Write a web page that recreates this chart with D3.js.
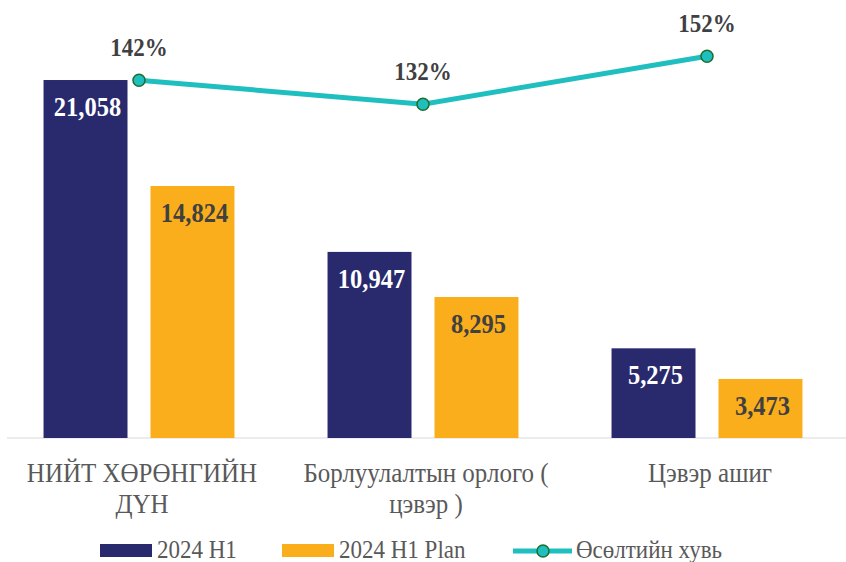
<!DOCTYPE html>
<html>
<head>
<meta charset="utf-8">
<script src="https://cdn.jsdelivr.net/npm/d3@7"></script>
<style>
  body { margin: 0; background: #fff; }
</style>
</head>
<body>
<div id="chart"></div>
<script>
// data
const categories = [["НИЙТ ХӨРӨНГИЙН", "ДҮН"], ["Борлуулалтын орлого (", "цэвэр )"], ["Цэвэр ашиг"]];
const seriesNames = ["2024 H1", "2024 H1 Plan", "Өсөлтийн хувь"];
const actual = [21058, 10947, 5275];
const plan = [14824, 8295, 3473];
const growth = [1.42, 1.32, 1.52];

const width = 846, height = 562;
const navy = "#29296e", orange = "#fbae1b", teal = "#1fbfbf";
const serif = "'Liberation Serif', 'Times New Roman', serif";
const stretch = 1.1; // the reference text is a bit tall and narrow

const svg = d3.select("#chart").append("svg")
    .attr("width", width)
    .attr("height", height)
    .style("font-family", serif);

// place a text at (px, py) with a vertical stretch
const at = (px, py, k = stretch) => "translate(" + px + "," + py + ") scale(1," + k + ")";

// scales
const x = d3.scaleBand()
    .domain(d3.range(categories.length))
    .range([-3, 849]);

const sub = d3.scaleBand()
    .domain([0, 1])
    .range([0, x.bandwidth()])
    .paddingInner(0.215)
    .paddingOuter(0.435);

const y = d3.scaleLinear()
    .domain([0, 25000])
    .range([438, 13]);

const y2 = d3.scaleLinear()
    .domain([0, 1.6])
    .range([421, 37]);

// baseline
svg.append("line")
    .attr("x1", 7).attr("x2", width)
    .attr("y1", y(0)).attr("y2", y(0))
    .attr("stroke", "#d9d9d9")
    .attr("stroke-width", 1);

// bars
const groups = svg.selectAll(".grp")
    .data(categories)
    .enter().append("g")
    .attr("transform", (d, i) => "translate(" + x(i) + ",0)");

const barData = (d, i) => [
    {v: actual[i], s: 0, color: navy, label: "#fff"},
    {v: plan[i], s: 1, color: orange, label: "#404040"}
];

groups.selectAll("rect")
    .data(barData)
    .enter().append("rect")
    .attr("x", d => sub(d.s))
    .attr("y", d => y(d.v))
    .attr("width", sub.bandwidth())
    .attr("height", d => y(0) - y(d.v))
    .attr("fill", d => d.color);

groups.selectAll(".val")
    .data(barData)
    .enter().append("text")
    .attr("class", "val")
    .attr("transform", d => at(sub(d.s) + sub.bandwidth() / 2 + 2, y(d.v) + 36))
    .attr("text-anchor", "middle")
    .style("font-size", "24.5px")
    .style("font-weight", "bold")
    .attr("fill", d => d.label)
    .text(d => d3.format(",")(d.v));

// category labels
const cat = svg.selectAll(".cat")
    .data(categories)
    .enter().append("text")
    .attr("class", "cat")
    .attr("text-anchor", "middle")
    .attr("fill", "#595959")
    .style("font-size", "25px")
    .attr("transform", (d, i) => at(x(i) + x.bandwidth() / 2 + 3, 482));

cat.selectAll("tspan")
    .data(d => d)
    .enter().append("tspan")
    .attr("x", 0)
    .attr("dy", (d, i) => i === 0 ? 0 : 31 / stretch)
    .text(d => d);

// growth line
const cx = i => x(i) + x.bandwidth() / 2;
const line = d3.line()
    .x((d, i) => cx(i))
    .y(d => y2(d));

svg.append("path")
    .datum(growth)
    .attr("d", line)
    .attr("fill", "none")
    .attr("stroke", teal)
    .attr("stroke-width", 5);

svg.selectAll(".dot")
    .data(growth)
    .enter().append("circle")
    .attr("cx", (d, i) => cx(i))
    .attr("cy", d => y2(d))
    .attr("r", 6)
    .attr("fill", teal)
    .attr("stroke", "#1e6e2e")
    .attr("stroke-width", 1.5);

svg.selectAll(".pct")
    .data(growth)
    .enter().append("text")
    .attr("class", "pct")
    .attr("transform", (d, i) => at(cx(i), y2(d) - 24))
    .attr("text-anchor", "middle")
    .attr("fill", "#404040")
    .style("font-size", "23px")
    .style("font-weight", "bold")
    .text(d => Math.round(d * 100) + "%");

// legend (kept just inside the bottom edge)
const legend = svg.append("g").attr("transform", "translate(0,550)");
const legendX = [100, 282, 513];

legendX.forEach((lx, i) => {
    if (i < 2) {
        legend.append("rect")
            .attr("x", lx).attr("y", -6)
            .attr("width", 52).attr("height", 13)
            .attr("fill", i === 0 ? navy : orange);
    } else {
        legend.append("line")
            .attr("x1", lx).attr("x2", lx + 59)
            .attr("y1", 1).attr("y2", 1)
            .attr("stroke", teal).attr("stroke-width", 5);
        legend.append("circle")
            .attr("cx", lx + 30).attr("cy", 1).attr("r", 6)
            .attr("fill", teal).attr("stroke", "#1e6e2e").attr("stroke-width", 1.5);
    }
    legend.append("text")
        .attr("transform", at(lx + (i < 2 ? 57 : 63), 8, 1.05))
        .attr("fill", "#595959")
        .style("font-size", "23px")
        .text(seriesNames[i]);
});
</script>
</body>
</html>
